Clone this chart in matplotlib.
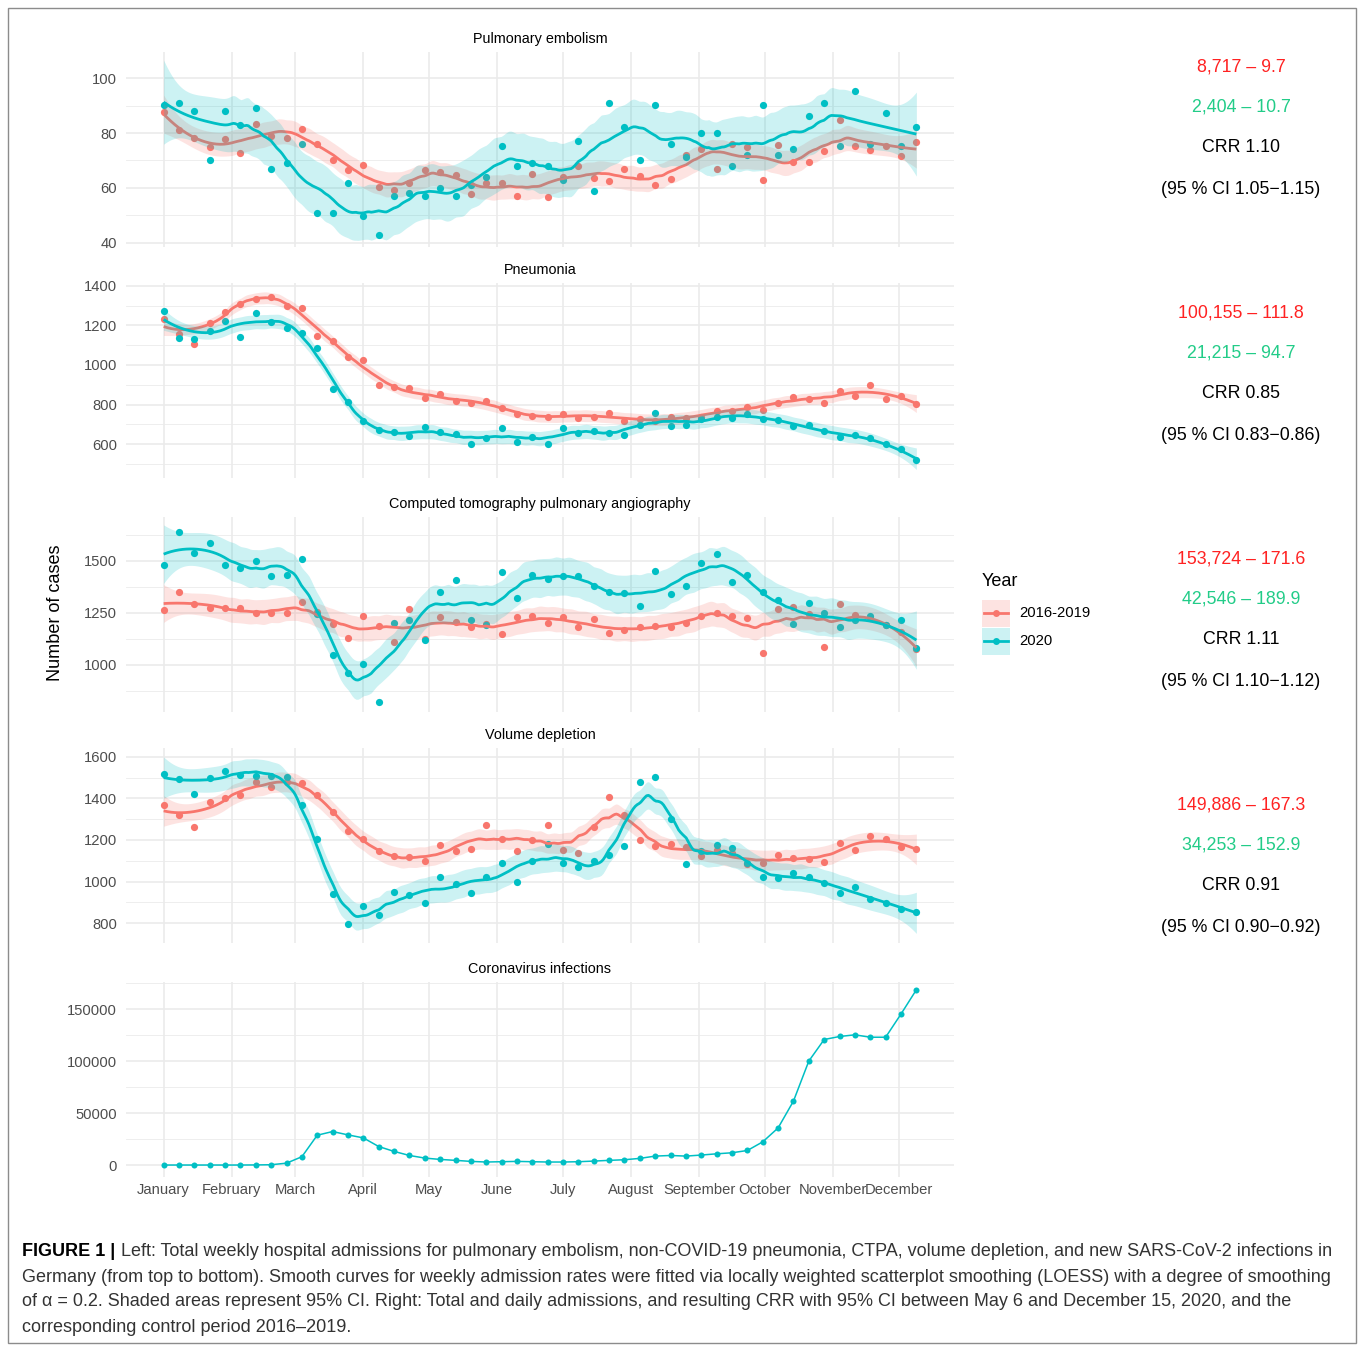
import numpy as np
import matplotlib
matplotlib.use("Agg")
import matplotlib.pyplot as plt
from matplotlib.patches import Rectangle
from matplotlib.lines import Line2D

plt.rcParams['font.family'] = ['Liberation Sans', 'DejaVu Sans']

# ---------------- data ----------------
weeks = np.arange(50)              # calendar week index (weekly points from Jan 1)
days = weeks * 7                   # day of year of each weekly point
month_names = ["January", "February", "March", "April", "May", "June", "July",
               "August", "September", "October", "November", "December"]
month_start_day = [0, 31, 60, 91, 121, 152, 182, 213, 244, 274, 305, 335]

pe_2020 = [90.2, 91.0, 88.0, 70.1, 88.0, 83.0, 89.1, 67.0, 69.0, 75.9,
           50.9, 50.9, 61.9, 49.9, 43.0, 57.1, 58.1, 57.1, 60.1, 57.1,
           61.0, 64.0, 75.2, 68.0, 69.1, 68.0, 62.9, 77.1, 59.0, 91.0,
           82.2, 70.1, 90.2, 75.9, 71.2, 80.0, 80.0, 68.0, 72.1, 90.2,
           72.0, 74.2, 86.1, 91.0, 75.2, 95.2, 75.9, 87.2, 75.3, 82.1]
pe_ctrl = [87.5, 81.1, 78.3, 75.0, 77.8, 72.7, 83.4, 79.0, 78.2, 81.5,
           75.9, 70.3, 66.7, 68.4, 60.5, 59.2, 61.9, 66.7, 65.8, 64.8,
           57.7, 61.9, 61.9, 57.1, 65.2, 56.8, 64.0, 68.0, 63.5, 62.5,
           67.0, 64.4, 61.2, 63.3, 72.1, 74.2, 67.0, 76.0, 74.8, 62.9,
           75.5, 69.5, 69.3, 73.6, 84.8, 75.2, 73.8, 75.2, 71.8, 76.6]

pn_2020 = [1273, 1137, 1133, 1170, 1224, 1143, 1262, 1216, 1189, 1164,
           1088, 877, 814, 716, 671, 661, 640, 684, 659, 651,
           600, 629, 683, 612, 635, 598, 683, 657, 666, 656,
           645, 694, 757, 691, 696, 725, 738, 732, 753, 728,
           720, 693, 696, 664, 635, 647, 632, 602, 575, 517]
pn_ctrl = [1235, 1155, 1105, 1213, 1270, 1309, 1334, 1346, 1299, 1290,
           1149, 1123, 1042, 1025, 897, 889, 884, 833, 853, 819,
           808, 819, 784, 752, 740, 737, 754, 732, 738, 757,
           716, 727, 718, 735, 730, 738, 769, 769, 789, 772,
           809, 840, 830, 806, 870, 843, 900, 830, 841, 803]

ct_2020 = [1479, 1641, 1540, 1585, 1482, 1465, 1500, 1428, 1431, 1508,
           1245, 1046, 960, 1005, 820, 1201, 1216, 1118, 1353, 1406,
           1214, 1192, 1446, 1322, 1431, 1415, 1428, 1427, 1379, 1351,
           1348, 1281, 1452, 1339, 1380, 1489, 1534, 1399, 1431, 1353,
           1313, 1195, 1297, 1252, 1182, 1214, 1233, 1190, 1216, 1083]
ct_ctrl = [1265, 1350, 1292, 1272, 1272, 1273, 1249, 1252, 1252, 1304,
           1255, 1198, 1131, 1235, 1185, 1112, 1267, 1123, 1230, 1208,
           1184, 1195, 1150, 1230, 1233, 1203, 1230, 1184, 1221, 1155,
           1169, 1184, 1189, 1184, 1201, 1236, 1252, 1236, 1225, 1058,
           1268, 1280, 1246, 1086, 1292, 1241, 1225, 1193, 1158, 1077]

vd_2020 = [1517, 1496, 1422, 1497, 1534, 1512, 1507, 1507, 1502, 1368,
           1207, 940, 797, 880, 840, 949, 935, 898, 1020, 989,
           944, 1023, 1090, 996, 1098, 1182, 1089, 1071, 1098, 1129,
           1170, 1478, 1501, 1303, 1084, 1146, 1174, 1162, 1090, 1023,
           1016, 1039, 1024, 991, 944, 975, 917, 898, 869, 853]
vd_ctrl = [1369, 1319, 1262, 1384, 1401, 1419, 1477, 1453, 1480, 1473,
           1419, 1334, 1243, 1206, 1145, 1122, 1117, 1097, 1175, 1145,
           1159, 1273, 1206, 1145, 1199, 1270, 1154, 1138, 1262, 1406,
           1321, 1198, 1170, 1180, 1167, 1121, 1151, 1138, 1085, 1090,
           1126, 1113, 1109, 1093, 1185, 1154, 1217, 1207, 1167, 1156]

covid_2020 = [0, 0, 0, 0, 0, 0, 100, 300, 1800, 8000,
              28700, 32200, 29000, 26100, 17800, 13100, 9200, 6700, 5400, 4500,
              3500, 2900, 3200, 3500, 3200, 2900, 2900, 3200, 3800, 4500,
              5100, 6400, 8600, 9200, 8600, 9600, 10800, 11800, 14000, 22300,
              35700, 61500, 100000, 120700, 123600, 125200, 122900, 122900, 145200, 168500]

panel_titles = ["Pulmonary embolism", "Pneumonia",
                "Computed tomography pulmonary angiography", "Volume depletion",
                "Coronavirus infections"]
legend_title = "Year"
legend_labels = ["2016-2019", "2020"]

stats_ctrl = ["8,717 \u2013 9.7", "100,155 \u2013 111.8", "153,724 \u2013 171.6", "149,886 \u2013 167.3"]
stats_2020 = ["2,404 \u2013 10.7", "21,215 \u2013 94.7", "42,546 \u2013 189.9", "34,253 \u2013 152.9"]
stats_crr = ["CRR 1.10", "CRR 0.85", "CRR 1.11", "CRR 0.91"]
stats_ci = ["(95 % CI 1.05\u22121.15)", "(95 % CI 0.83\u22120.86)",
            "(95 % CI 1.10\u22121.12)", "(95 % CI 0.90\u22120.92)"]

caption_bold = "FIGURE 1 |"
caption_lines = [
    "Left: Total weekly hospital admissions for pulmonary embolism, non-COVID-19 pneumonia, CTPA, volume depletion, and new SARS-CoV-2 infections in",
    "Germany (from top to bottom). Smooth curves for weekly admission rates were fitted via locally weighted scatterplot smoothing (LOESS) with a degree of smoothing",
    "of \u03b1 = 0.2. Shaded areas represent 95% CI. Right: Total and daily admissions, and resulting CRR with 95% CI between May 6 and December 15, 2020, and the",
    "corresponding control period 2016\u20132019.",
]

# ---------------- styling ----------------
W, H = 1358, 1345
RED = "#F8766D"
TEAL = "#00BFC4"
TXT_RED = "#FF2222"
TXT_GREEN = "#22CC88"
GRID = "#EBEBEB"
AXTXT = "#4D4D4D"


def loess(x, y, xg, span=0.2):
    x = np.asarray(x, float) / 7.0
    y = np.asarray(y, float)
    xg = np.asarray(xg, float) / 7.0
    n = len(x)
    q = int(np.floor(n * span))

    def lrow(x0):
        d = np.abs(x - x0)
        h = max(np.sort(d)[q - 1], 1e-9) * 1.0001
        u = d / h
        w = np.where(u < 1, (1 - u ** 3) ** 3, 0.0)
        X = np.vstack([np.ones(n), x - x0, (x - x0) ** 2]).T
        XtW = X.T * w
        return np.linalg.solve(XtW @ X, XtW)[0]

    L = np.array([lrow(v) for v in x])
    res = y - L @ y
    dfres = n - 2 * np.trace(L) + np.trace(L.T @ L)
    sigma = np.sqrt(np.sum(res ** 2) / dfres)
    Lg = np.array([lrow(v) for v in xg])
    fit = Lg @ y
    se = sigma * np.sqrt(np.sum(Lg ** 2, axis=1))
    t = 2.03
    return fit, fit - t * se, fit + t * se


fig = plt.figure(figsize=(W / 100, H / 100), dpi=100)
fig.patch.set_facecolor("white")

x_left, x_right = 126, 954
panel_px = [(52, 247), (283, 478), (517, 712), (748, 943), (982, 1177)]
ylims = [(38.5, 109.5), (428, 1415), (774, 1711), (704, 1643), (-11500, 176000)]
yticks = [[40, 60, 80, 100], [600, 800, 1000, 1200, 1400], [1000, 1250, 1500],
          [800, 1000, 1200, 1400, 1600], [0, 50000, 100000, 150000]]
yminor = [[50, 70, 90], [500, 700, 900, 1100, 1300], [875, 1125, 1375, 1625],
          [900, 1100, 1300, 1500], [25000, 75000, 125000, 175000]]
series = [(pe_ctrl, pe_2020), (pn_ctrl, pn_2020), (ct_ctrl, ct_2020), (vd_ctrl, vd_2020)]

span_days = days[-1] - days[0]
xlim = (days[0] - 0.05 * span_days, days[-1] + 0.05 * span_days)
xg = np.linspace(days[0], days[-1], 400)

axes = []
for k in range(5):
    top, bot = panel_px[k]
    ax = fig.add_axes([x_left / W, 1 - bot / H, (x_right - x_left) / W, (bot - top) / H])
    axes.append(ax)
    ax.set_xlim(*xlim)
    ax.set_ylim(*ylims[k])
    for s in ax.spines.values():
        s.set_visible(False)
    ax.set_yticks(yticks[k])
    ax.set_yticks(yminor[k], minor=True)
    ax.set_xticks(month_start_day)
    ax.tick_params(axis="both", which="both", length=0)
    ax.tick_params(axis="y", which="major", pad=6.5, labelsize=10.6, labelcolor=AXTXT)
    ax.grid(True, which="major", color=GRID, lw=1.2, zorder=0)
    ax.grid(True, which="minor", axis="y", color=GRID, lw=0.6, zorder=0)
    ax.set_axisbelow(True)
    if k < 4:
        ax.set_xticklabels([])
    else:
        ax.set_xticklabels(month_names)
        ax.tick_params(axis="x", pad=4, labelsize=10.6, labelcolor=AXTXT)
    ax.text(0.5, 1 + 13 / (bot - top), panel_titles[k], transform=ax.transAxes,
            ha="center", va="center", fontsize=10.4, color="black")

    if k < 4:
        ctrl, cur = series[k]
        ax.scatter(days, ctrl, s=27, color=RED, zorder=2, linewidths=0)
        ax.scatter(days, cur, s=27, color=TEAL, zorder=2, linewidths=0)
        for vals, col, z in ((ctrl, RED, 3), (cur, TEAL, 4)):
            fit, lo, hi = loess(days, vals, xg)
            ax.fill_between(xg, lo, hi, color=col, alpha=0.2, lw=0, zorder=z)
            ax.plot(xg, fit, color=col, lw=2.0, zorder=z, solid_capstyle="butt")
    else:
        ax.plot(days, covid_2020, color=TEAL, lw=1.1, zorder=3)
        ax.scatter(days, covid_2020, s=19, color=TEAL, zorder=4, linewidths=0)

# ---------------- overlay in pixel coordinates ----------------
ov = fig.add_axes([0, 0, 1, 1])
ov.set_xlim(0, W)
ov.set_ylim(H, 0)
ov.axis("off")

ov.add_patch(Rectangle((8, 8), W - 10, H - 10, fill=False, ec="#8C8C8C", lw=1.0))

ov.text(55, 613, "Number of cases", rotation=90, ha="center", va="center",
        fontsize=13.1, color="black")

# legend
ov.text(982, 581, legend_title, ha="left", va="center", fontsize=13, color="black")
for j, (col, yc) in enumerate(((RED, 613), (TEAL, 641))):
    ov.add_patch(Rectangle((982, yc - 13.5), 28, 27, facecolor=col, alpha=0.2, lw=0))
    ov.add_line(Line2D([984, 1008], [yc, yc], color=col, lw=2.0))
    ov.plot([996], [yc], marker="o", ms=5, color=col, mew=0)
    ov.text(1019, yc, legend_labels[j], ha="left", va="center", fontsize=10.6, color="black")

# right-hand statistics
block_y = [67, 313, 559, 805]
for k in range(4):
    y0 = block_y[k]
    ov.text(1241, y0, stats_ctrl[k], ha="center", va="center", fontsize=12.8, color=TXT_RED)
    ov.text(1241, y0 + 40.5, stats_2020[k], ha="center", va="center", fontsize=12.8, color=TXT_GREEN)
    ov.text(1241, y0 + 81, stats_crr[k], ha="center", va="center", fontsize=12.8, color="black")
    ov.text(1241, y0 + 122, stats_ci[k], ha="center", va="center", fontsize=12.8, color="black")

# caption
cap_fs = 12.95
cap_y = [1252, 1277, 1302, 1327]
tb = ov.text(22, cap_y[0], caption_bold, ha="left", va="center", fontsize=cap_fs,
             fontweight="bold", color="black")
fig.canvas.draw()
bb = tb.get_window_extent(renderer=fig.canvas.get_renderer())
x_after = bb.x1 + 6
ov.text(x_after, cap_y[0], caption_lines[0], ha="left", va="center", fontsize=cap_fs, color="#333333")
for i in range(1, 4):
    ov.text(22, cap_y[i], caption_lines[i], ha="left", va="center", fontsize=cap_fs, color="#333333")

fig.savefig("out.png", dpi=100, facecolor="white")
